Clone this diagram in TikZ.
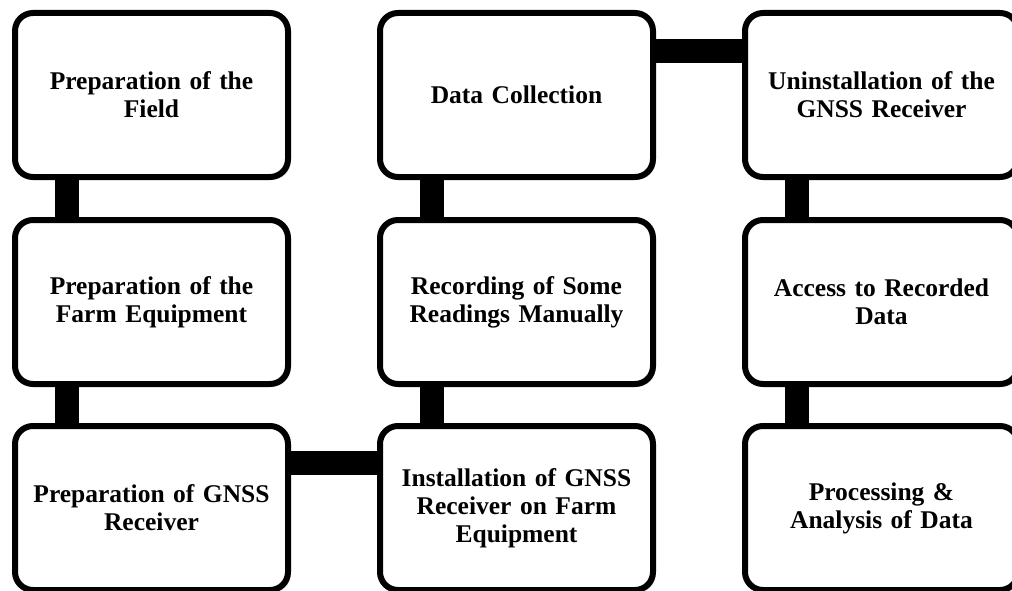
\documentclass[tikz,border=0pt]{standalone}
\usepackage{fontspec}
\setmainfont{Liberation Serif}
\usetikzlibrary{shadows}
\tikzset{
  stepbox/.style={draw=black, fill=white, line width=6pt, rounded corners=18pt,
    minimum width=273pt, minimum height=164pt, inner sep=4pt,
    align=center, text width=262pt,
    font=\fontsize{25.5}{28}\selectfont\bfseries,
    drop shadow={shadow xshift=2.5pt, shadow yshift=-2.5pt, fill=black, opacity=0.3}},
  bar/.style={line width=24pt, black}
}
\begin{document}
\begin{tikzpicture}[x=1pt, y=-1pt]
\useasboundingbox (0,0) rectangle (1012,591);
\node[stepbox] (a1) at (151.5,95) {Preparation of the\\Field};
\node[stepbox] (a2) at (151.5,302) {Preparation of the\\Farm Equipment};
\node[stepbox] (a3) at (151.5,508) {Preparation of GNSS\\Receiver};
\node[stepbox] (b3) at (516.5,508) {Installation of GNSS\\Receiver on Farm\\Equipment};
\node[stepbox] (b2) at (516.5,302) {Recording of Some\\Readings Manually};
\node[stepbox] (b1) at (516.5,95) {Data Collection};
\node[stepbox] (c1) at (881.5,95) {Uninstallation of the\\GNSS Receiver};
\node[stepbox] (c2) at (881.5,302) {Access to Recorded\\Data};
\node[stepbox] (c3) at (881.5,508) {Processing \&\\Analysis of Data};
\draw[bar] ([xshift=55pt]a1.south west) -- ([xshift=55pt]a2.north west);
\draw[bar] ([xshift=55pt]a2.south west) -- ([xshift=55pt]a3.north west);
\draw[bar] ([yshift=-40pt]a3.north east) -- ([yshift=-40pt]b3.north west);
\draw[bar] ([xshift=55pt]b3.north west) -- ([xshift=55pt]b2.south west);
\draw[bar] ([xshift=55pt]b2.north west) -- ([xshift=55pt]b1.south west);
\draw[bar] ([yshift=-41pt]b1.north east) -- ([yshift=-41pt]c1.north west);
\draw[bar] ([xshift=55pt]c1.south west) -- ([xshift=55pt]c2.north west);
\draw[bar] ([xshift=55pt]c2.south west) -- ([xshift=55pt]c3.north west);
\end{tikzpicture}
\end{document}
